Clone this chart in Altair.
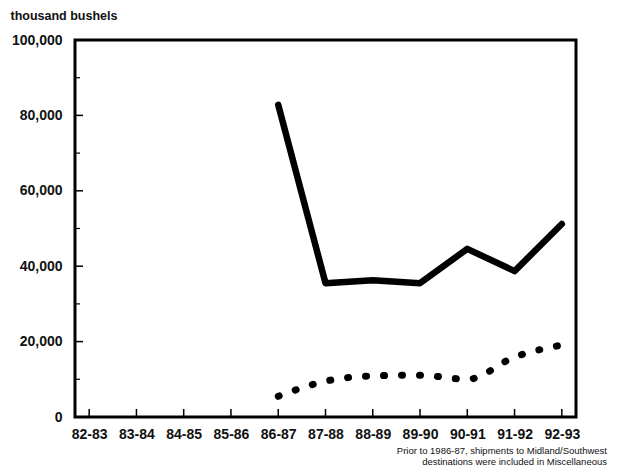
import altair as alt
import pandas as pd

seasons = ["82-83", "83-84", "84-85", "85-86", "86-87", "87-88",
           "88-89", "89-90", "90-91", "91-92", "92-93"]
# thousand bushels
midland_southwest = [None, None, None, None, 82800, 35500, 36300, 35500, 44600, 38700, 51200]
second_series = [None, None, None, None, 5500, 9500, 10900, 11100, 10000, 15900, 19100]

major_ticks = [20000, 40000, 60000, 80000]
minor_ticks = [10000, 30000, 50000, 70000, 90000]
note_line1 = "Prior to 1986-87, shipments to Midland/Southwest"
note_line2 = "destinations were included in Miscellaneous"

W, H = 501, 377
FONT = "Liberation Sans"

df_solid = pd.DataFrame({"season": seasons, "value": midland_southwest}).dropna()
df_dot = pd.DataFrame({"season": seasons, "value": second_series}).dropna()

xscale = alt.Scale(type="point", domain=seasons, padding=0.3)
yscale = alt.Scale(domain=[0, 100000], nice=False, zero=True)

xaxis = alt.Axis(title=None, domain=False, ticks=False, grid=False, labelAngle=0,
                 labelPadding=10, labelFont=FONT, labelFontSize=14, labelFontWeight="bold",
                 labelColor="#111")
yaxis = alt.Axis(title="thousand bushels", domain=False, ticks=False, grid=False,
                 values=[0, 20000, 40000, 60000, 80000, 100000], format=",d",
                 labelPadding=13, labelFont=FONT, labelFontSize=14, labelFontWeight="bold",
                 labelColor="#111",
                 titleAngle=0, titleAlign="left", titleBaseline="middle",
                 titleX=-65, titleY=-25, titleFont=FONT, titleFontSize=12.5,
                 titleFontWeight="bold", titleColor="#111")

X = alt.X("season:N", scale=xscale, axis=xaxis, sort=seasons)
Y = alt.Y("value:Q", scale=yscale, axis=yaxis)

solid = alt.Chart(df_solid).mark_line(
    color="#000", strokeWidth=6.5, strokeCap="round", strokeJoin="round"
).encode(x=X, y=Y)

dotted = alt.Chart(df_dot).mark_line(
    color="#000", strokeWidth=7, strokeCap="round", strokeDash=[1, 17],
    interpolate="monotone"
).encode(x=X, y=Y)

xticks = alt.Chart(pd.DataFrame({"season": seasons})).mark_rule(
    color="#000", strokeWidth=1.5
).encode(x=X, y=alt.value(H), y2=alt.value(H - 8))

ymajor = alt.Chart(pd.DataFrame({"value": major_ticks})).mark_rule(
    color="#000", strokeWidth=1.5
).encode(y=Y, x=alt.value(0), x2=alt.value(8))
yminor = alt.Chart(pd.DataFrame({"value": minor_ticks})).mark_rule(
    color="#000", strokeWidth=1.2
).encode(y=Y, x=alt.value(0), x2=alt.value(5))

note1 = alt.Chart(pd.DataFrame({"t": [note_line1]})).mark_text(
    align="right", baseline="middle", font=FONT, fontSize=9.5, color="#111"
).encode(text="t:N", x=alt.value(532), y=alt.value(411))
note2 = alt.Chart(pd.DataFrame({"t": [note_line2]})).mark_text(
    align="right", baseline="middle", font=FONT, fontSize=9.5, color="#111"
).encode(text="t:N", x=alt.value(532), y=alt.value(422))

chart = alt.layer(solid, dotted, xticks, ymajor, yminor, note1, note2).properties(
    width=W, height=H,
    autosize=alt.AutoSizeParams(type="none"),
    padding={"left": 67, "top": 32, "right": 40, "bottom": 50},
    background="white",
).configure_view(
    stroke="#000", strokeWidth=3
)

chart.save("out.html", embed_options={"renderer": "svg", "actions": False})
